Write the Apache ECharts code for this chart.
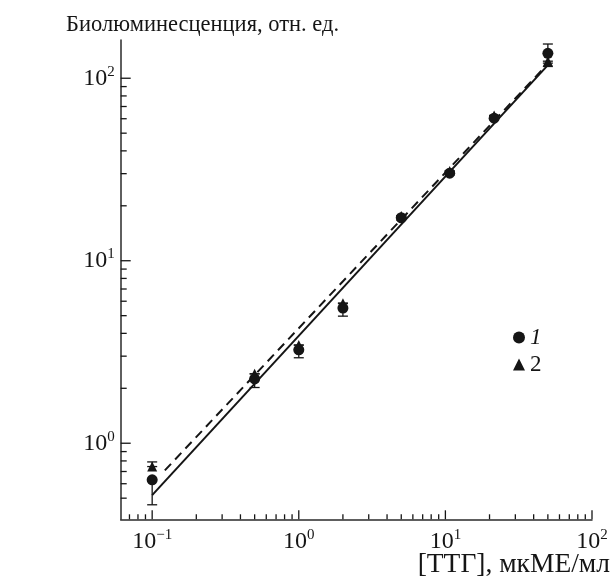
<!DOCTYPE html>
<html><head><meta charset="utf-8">
<script src="https://cdn.jsdelivr.net/npm/echarts@6/dist/echarts.min.js"></script>
<style>html,body{margin:0;padding:0;background:#fff}#c{width:613px;height:578px}</style>
</head><body><div id="c"></div>
<script>
// ---- data ----
const concentrations = [0.1, 0.5, 1, 2, 5, 10.7, 21.5, 50];
const series1Values = [0.63, 2.25, 3.25, 5.5, 17.2, 30.2, 60.4, 137];
const series1Low    = [0.46, 2.02, 2.94, 4.97, 17.2, 30.2, 60.4, 121];
const series1High   = [0.63, 2.25, 3.25, 5.5, 17.2, 30.2, 60.4, 154];
const series2Values = [0.745, 2.4, 3.45, 5.85, 17.6, 31, 62.5, 124];
const series2Low    = [0.745, 2.4, 3.45, 5.85, 17.6, 31, 62.5, 116];
const series2High   = [0.79, 2.4, 3.45, 5.85, 17.6, 31, 62.5, 124];
const fitSolidX = [0.1, 50];
const fitSolidY = [0.52, 118];
const fitDashX = [0.122, 50];
const fitDashY = [0.71, 120];
const xMajorTicks = [0.1, 1, 10, 100];
const yMajorTicks = [1, 10, 100];
const seriesNames = ['1', '2'];
const titleText = 'Биолюминесценция, отн. ед.';
const xAxisTitle = '[ТТГ], мкМЕ/мл';
const xRange = [0.061, 100];
const yRange = [0.383, 162];

// ---- helpers ----
const FONT = 'Liberation Serif';
const INK = '#151515';
function minorTicks(majors, lo, hi) {
  const out = [];
  const decades = [];
  for (let e = Math.floor(Math.log10(lo)); e <= Math.ceil(Math.log10(hi)); e++) decades.push(Math.pow(10, e));
  decades.forEach(d => { for (let m = 2; m <= 9; m++) { const v = +(m * d).toPrecision(6); if (v > lo * 1.05 && v < hi * 0.97) out.push(v); } });
  return out;
}
const xTickData = xMajorTicks.map(v => [v, 9]).concat(minorTicks(xMajorTicks, xRange[0], xRange[1]).map(v => [v, 5]));
const yTickData = yMajorTicks.map(v => [v, 10]).concat(minorTicks(yMajorTicks, yRange[0], yRange[1]).map(v => [v, 6]));

function powLabel(v) {
  const l = Math.log10(v), e = Math.round(l);
  if (Math.abs(l - e) > 1e-6) return '';
  return '{b|10}{s|' + (e < 0 ? '−' : '') + Math.abs(e) + '}';
}
const labelRich = {
  b: { fontFamily: FONT, fontSize: 24, color: INK },
  s: { fontFamily: FONT, fontSize: 15, color: INK, padding: [0, 0, 13, 0] }
};

function xTickItem(params, api) {
  const cs = params.coordSys;
  const x = api.coord([api.value(0), 1])[0];
  const y = cs.y + cs.height;
  return { type: 'line', shape: { x1: x, y1: y, x2: x, y2: y - api.value(1) }, style: { stroke: INK, lineWidth: 1.3 } };
}
function yTickItem(params, api) {
  const cs = params.coordSys;
  const y = api.coord([1, api.value(0)])[1];
  const x = cs.x;
  return { type: 'line', shape: { x1: x, y1: y, x2: x + api.value(1), y2: y }, style: { stroke: INK, lineWidth: 1.3 } };
}
function errItem(params, api) {
  const x = api.value(0);
  const p1 = api.coord([x, api.value(1)]), p2 = api.coord([x, api.value(2)]);
  const w = 5, st = { stroke: INK, lineWidth: 1.3 };
  return { type: 'group', children: [
    { type: 'line', shape: { x1: p1[0], y1: p1[1], x2: p2[0], y2: p2[1] }, style: st },
    { type: 'line', shape: { x1: p1[0] - w, y1: p1[1], x2: p1[0] + w, y2: p1[1] }, style: st },
    { type: 'line', shape: { x1: p2[0] - w, y1: p2[1], x2: p2[0] + w, y2: p2[1] }, style: st }
  ] };
}

const chart = echarts.init(document.getElementById('c'), null, { renderer: 'canvas' });
chart.setOption({
  animation: false,
  backgroundColor: '#fff',
  title: [
    { text: titleText, left: 66, top: 14, padding: 0, textStyle: { fontFamily: FONT, fontWeight: 'normal', fontSize: 22.5, color: INK } },
    { text: xAxisTitle, right: 3, top: 551, padding: 0, textStyle: { fontFamily: FONT, fontWeight: 'normal', fontSize: 27.5, color: INK } }
  ],
  legend: {
    orient: 'vertical', left: 508, top: 321, itemWidth: 12, itemHeight: 12, itemGap: 4,
    data: [
      { name: seriesNames[0], icon: 'circle', textStyle: { fontStyle: 'italic' } },
      { name: seriesNames[1], icon: 'triangle' }
    ],
    itemStyle: { opacity: 1 },
    textStyle: { fontFamily: FONT, fontSize: 23, color: INK }
  },
  grid: { left: 120.7, right: 21, top: 40, bottom: 58.7 },
  xAxis: {
    type: 'log', logBase: 10, min: xRange[0], max: xRange[1],
    axisLine: { lineStyle: { color: '#2a2a2a', width: 1.5 } },
    axisTick: { show: false }, splitLine: { show: false }, minorTick: { show: false },
    axisLabel: { formatter: powLabel, rich: labelRich, margin: 8, showMinLabel: false, showMaxLabel: true }
  },
  yAxis: {
    type: 'log', logBase: 10, min: yRange[0], max: yRange[1],
    axisLine: { lineStyle: { color: '#2a2a2a', width: 1.5 } },
    axisTick: { show: false }, splitLine: { show: false }, minorTick: { show: false },
    axisLabel: { formatter: powLabel, rich: labelRich, margin: 6, showMinLabel: false, showMaxLabel: false }
  },
  series: [
    { type: 'custom', silent: true, renderItem: xTickItem, data: xTickData, clip: false, z: 1 },
    { type: 'custom', silent: true, renderItem: yTickItem, data: yTickData, clip: false, z: 1 },
    { type: 'line', silent: true, showSymbol: false, data: fitSolidX.map((x, i) => [x, fitSolidY[i]]),
      lineStyle: { color: INK, width: 2 }, z: 2 },
    { type: 'line', silent: true, showSymbol: false, data: fitDashX.map((x, i) => [x, fitDashY[i]]),
      lineStyle: { color: INK, width: 2, type: [9, 6] }, z: 2 },
    { type: 'custom', silent: true, renderItem: errItem, clip: false, z: 3,
      data: concentrations.map((x, i) => [x, series1Low[i], series1High[i]]) },
    { type: 'custom', silent: true, renderItem: errItem, clip: false, z: 3,
      data: concentrations.map((x, i) => [x, series2Low[i], series2High[i]]) },
    { name: seriesNames[1], type: 'scatter', symbol: 'triangle', symbolSize: 10, z: 4,
      itemStyle: { color: INK, opacity: 1 }, data: concentrations.map((x, i) => [x, series2Values[i]]) },
    { name: seriesNames[0], type: 'scatter', symbol: 'circle', symbolSize: 11, z: 5,
      itemStyle: { color: INK, opacity: 1 }, data: concentrations.map((x, i) => [x, series1Values[i]]) }
  ]
});
</script>
</body></html>
